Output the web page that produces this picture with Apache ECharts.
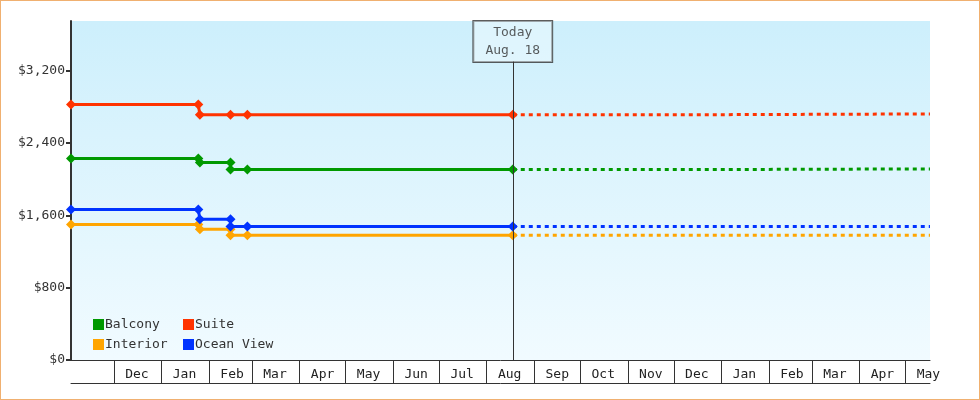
<!DOCTYPE html>
<html><head><meta charset="utf-8">
<script src="https://cdn.jsdelivr.net/npm/echarts@6/dist/echarts.min.js"></script>
<style>html,body{margin:0;padding:0;background:#fff}#c{width:978px;height:398px;border:1px solid #f0b070}</style>
</head><body><div id="c"></div>
<script>
const seriesNames=['Balcony','Suite','Interior','Ocean View'];
const colors={'Balcony':'#009900','Suite':'#ff3300','Interior':'#ffa500','Ocean View':'#0033ff'};
const actual={
 'Suite':[['2024-11-03',2825],['2025-01-25',2825],['2025-01-26',2714],['2025-02-15',2714],['2025-02-26',2714],['2025-08-18',2714]],
 'Balcony':[['2024-11-03',2229],['2025-01-25',2229],['2025-01-26',2185],['2025-02-15',2185],['2025-02-15',2107],['2025-02-26',2107],['2025-08-18',2107]],
 'Ocean View':[['2024-11-03',1666],['2025-01-25',1666],['2025-01-26',1556],['2025-02-15',1556],['2025-02-15',1478],['2025-02-26',1478],['2025-08-18',1478]],
 'Interior':[['2024-11-03',1500],['2025-01-25',1500],['2025-01-26',1445],['2025-02-15',1445],['2025-02-15',1379],['2025-02-26',1379],['2025-08-18',1379]]
};
const forecast={
 'Suite':[['2025-08-18',2714],['2026-01-01',2714],['2026-01-01',2722],['2026-05-17',2722]],
 'Balcony':[['2025-08-18',2107],['2026-01-01',2107],['2026-01-01',2114],['2026-05-17',2114]],
 'Ocean View':[['2025-08-18',1478],['2026-05-17',1478]],
 'Interior':[['2025-08-18',1379],['2026-05-17',1379]]
};
const todayDate='2025-08-18';
const todayLabel='Today\nAug. 18';
const yTicks=[0,800,1600,2400,3200];
const monthNames=['Jan','Feb','Mar','Apr','May','Jun','Jul','Aug','Sep','Oct','Nov','Dec'];
const font='DejaVu Sans Mono';
const xMin='2024-11-03', xMax='2026-05-17';
const series=[];
seriesNames.forEach(n=>{
 series.push({name:n,type:'line',data:actual[n],color:colors[n],lineStyle:{width:3},symbol:'diamond',symbolSize:10,showSymbol:true,z:3});
 series.push({name:n,type:'line',data:forecast[n],color:colors[n],lineStyle:{width:3,type:[4,4]},symbol:'none',z:2});
});
series.push({type:'scatter',data:[[todayDate,3750]],symbolSize:0,silent:true,
 label:{show:true,position:'bottom',distance:0,formatter:todayLabel,fontFamily:font,fontSize:13,color:'#333',lineHeight:18,
  backgroundColor:'rgba(240,250,255,0.6)',borderColor:'#333',borderWidth:1,padding:[3,12,2,12]},
 markLine:{silent:true,symbol:'none',label:{show:false},lineStyle:{color:'#333',width:1,type:'solid'},data:[[{coord:[todayDate,0]},{coord:[todayDate,3300]}]]}});
const chart=echarts.init(document.getElementById('c'));
const mlab=v=>monthNames[new Date(v).getMonth()];
chart.setOption({
 animation:false,
 textStyle:{fontFamily:font},
 grid:{left:70,right:49,top:20,bottom:39,show:true,borderWidth:0,
  backgroundColor:{type:'linear',x:0,y:0,x2:0,y2:1,colorStops:[{offset:0,color:'#cdeffc'},{offset:1,color:'#f1fbff'}]}},
 legend:[
  {data:['Balcony','Interior'],orient:'vertical',left:87,top:312,itemWidth:11,itemHeight:11,itemGap:7,icon:'rect',textStyle:{fontFamily:font,fontSize:13,color:'#333',padding:[0,0,0,-4]}},
  {data:['Suite','Ocean View'],orient:'vertical',left:177,top:312,itemWidth:11,itemHeight:11,itemGap:7,icon:'rect',textStyle:{fontFamily:font,fontSize:13,color:'#333',padding:[0,0,0,-4]}}
 ],
 xAxis:[
  {type:'time',min:xMin,max:xMax,splitNumber:20,minInterval:28*86400000,
   axisLine:{lineStyle:{color:'#333',width:1}},
   axisTick:{show:true,length:24,lineStyle:{color:'#333'}},
   axisLabel:{formatter:mlab,fontFamily:font,fontSize:13,color:'#222',align:'center',padding:[0,0,0,46],margin:8,showMinLabel:false,showMaxLabel:false,hideOverlap:false},
   splitLine:{show:false}},
  {type:'time',min:xMin,max:xMax,position:'bottom',offset:23,axisLine:{lineStyle:{color:'#333'}},axisTick:{show:false},axisLabel:{show:false},splitLine:{show:false}}
 ],
 yAxis:{type:'value',min:0,max:3750,interval:800,
  axisLine:{show:true,lineStyle:{color:'#333',width:2}},axisTick:{show:true,length:5,lineStyle:{color:'#333',width:2}},
  axisLabel:{formatter:v=>yTicks.includes(v)?'$'+v.toLocaleString('en-US'):'',fontFamily:font,fontSize:13,color:'#333',margin:6,showMaxLabel:false},
  splitLine:{show:false}},
 series:series
});
</script></body></html>
